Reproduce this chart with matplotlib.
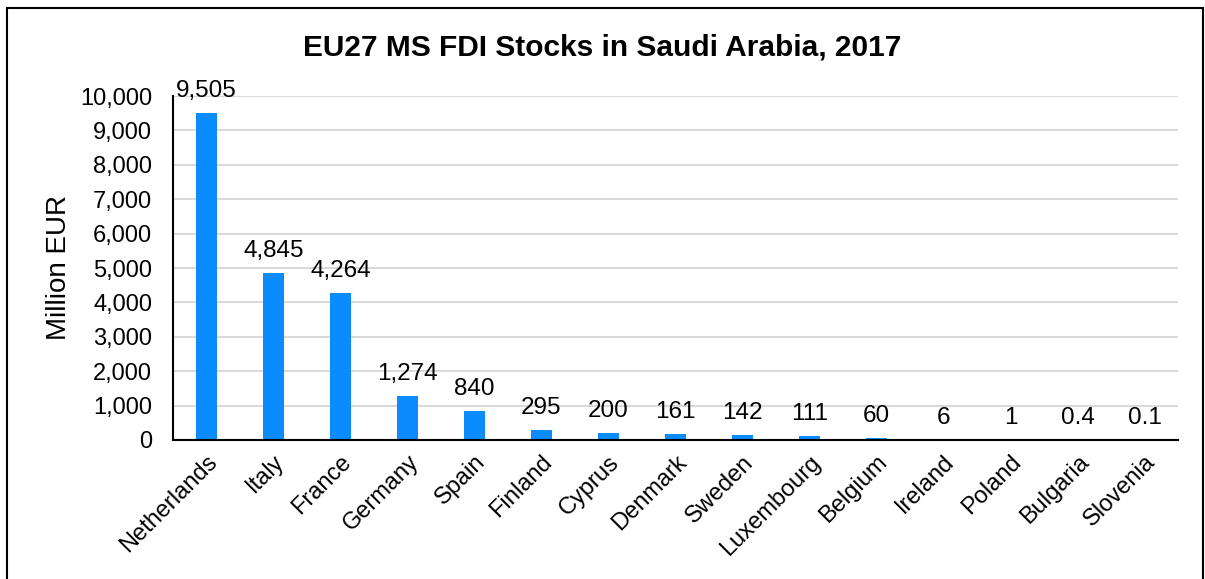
import matplotlib

matplotlib.use("Agg")
import matplotlib.pyplot as plt
from matplotlib.patches import Rectangle
from matplotlib.ticker import FuncFormatter

plt.rcParams["font.family"] = ["Liberation Sans", "DejaVu Sans"]

countries = [
    "Netherlands", "Italy", "France", "Germany", "Spain", "Finland", "Cyprus",
    "Denmark", "Sweden", "Luxembourg", "Belgium", "Ireland", "Poland",
    "Bulgaria", "Slovenia",
]
stocks = [9505, 4845, 4264, 1274, 840, 295, 200, 161, 142, 111, 60, 6, 1, 0.4, 0.1]
labels = ["9,505", "4,845", "4,264", "1,274", "840", "295", "200", "161", "142",
          "111", "60", "6", "1", "0.4", "0.1"]

W, H = 1205, 579
fig = plt.figure(figsize=(W / 100, H / 100), dpi=100)
ax = fig.add_axes([173 / W, 1 - 440 / H, (1178 - 173) / W, (440 - 96) / H])

x = range(len(countries))
bars = ax.bar(x, stocks, width=0.31, color="#0a8cff", zorder=3)
for b, txt in zip(bars, labels):
    ax.annotate(txt, (b.get_x() + b.get_width() / 2, b.get_height()),
                xytext=(0, 8), textcoords="offset points",
                ha="center", va="bottom", fontsize=17.5)

ax.set_xlim(-0.5, len(countries) - 0.5)
ax.set_ylim(0, 10000)
ax.set_yticks(range(0, 10001, 1000))
ax.yaxis.set_major_formatter(FuncFormatter(lambda v, _: f"{int(v):,}"))
ax.grid(axis="y", color="#d9d9d9", lw=1.5, zorder=0)
ax.set_xticks(list(x))
ax.set_xticklabels(countries, rotation=45, ha="right", rotation_mode="anchor")
ax.tick_params(axis="both", length=0, labelsize=17)
ax.tick_params(axis="y", pad=15)
ax.tick_params(axis="x", pad=8)

for side in ("top", "right"):
    ax.spines[side].set_visible(False)
for side in ("left", "bottom"):
    ax.spines[side].set_linewidth(1.5)
    ax.spines[side].set_zorder(4)

ax.set_ylabel("Million EUR", fontsize=20, labelpad=6)
fig.text(0.5, 1 - 47 / H, "EU27 MS FDI Stocks in Saudi Arabia, 2017",
         ha="center", va="center", fontsize=21.5, fontweight="bold")

# outer chart frame
fig.patches.append(Rectangle((7 / W, -0.1), (1203 - 7) / W, 1 - 8 / H + 0.1,
                             transform=fig.transFigure, fill=False,
                             edgecolor="black", lw=1.5))

fig.savefig("out.png", dpi=100)
